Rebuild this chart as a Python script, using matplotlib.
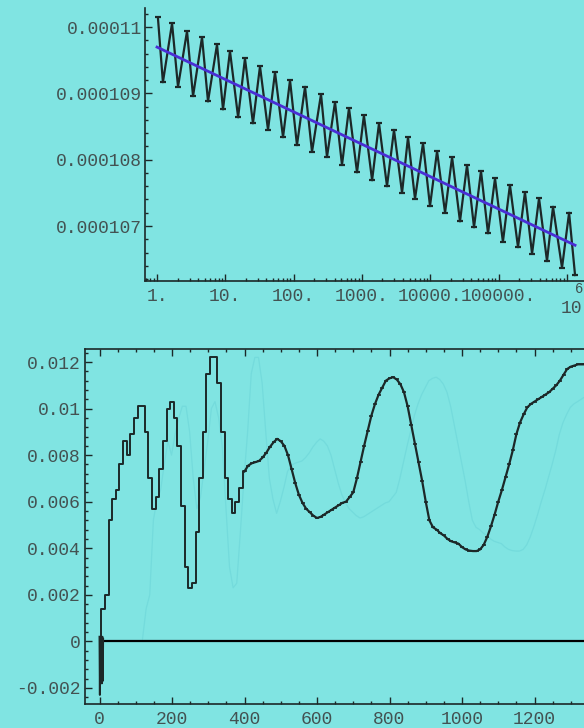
import numpy as np
import matplotlib
matplotlib.use('Agg')
import matplotlib.pyplot as plt
import matplotlib.transforms as mtransforms
from matplotlib.ticker import FixedLocator, FixedFormatter, MultipleLocator, LogLocator, NullFormatter

W, H = 584, 728
bg = '#80e4e2'
ink = '#1c2828'
txt = '#435252'
mono = 'Liberation Mono'

# --- upper panel: log-periodic wiggle, y in units of 1e-6 ---
peak_x = [1.03, 1.66, 2.75, 4.56, 7.56, 11.7, 19.4, 32.2, 53.4, 88.6, 147, 252, 404, 647,
          1070, 1780, 2950, 4730, 7850, 12600, 20900, 34600, 55400, 88900, 147000,
          244000, 392000, 628000, 1080000]
peak_y = [110.15, 110.06, 109.94, 109.85, 109.74, 109.64, 109.53, 109.41, 109.32, 109.20,
          109.10, 108.99, 108.87, 108.78, 108.67, 108.55, 108.45, 108.34, 108.25, 108.13,
          108.04, 107.92, 107.83, 107.72, 107.62, 107.51, 107.42, 107.29, 107.20]
trough_x = [1.22, 2.03, 3.37, 5.58, 9.25, 15.4, 25.4, 42.2, 70.0, 112, 186, 308, 511, 848,
            1410, 2330, 3870, 5990, 9930, 16500, 27300, 43800, 70200, 116000, 193000,
            310000, 513000, 851000, 1320000]
trough_y = [109.17, 109.10, 108.96, 108.88, 108.76, 108.64, 108.55, 108.45, 108.34, 108.22,
            108.12, 108.04, 107.92, 107.81, 107.69, 107.60, 107.50, 107.41, 107.30, 107.20,
            107.07, 106.98, 106.89, 106.76, 106.68, 106.58, 106.47, 106.37, 106.26]
fit_x = [1.0, 1.32e6]
fit_y = [109.70, 106.71]

top_ticks = [1, 10, 100, 1000, 10000, 100000, 1000000]
top_labels = ['1.', '10.', '100.', '1000.', '10000.', '100000.', '']
top_yticks = [107, 108, 109, 110]
top_ylabels = ['0.000107', '0.000108', '0.000109', '0.00011']

# --- lower panel, y in units of 1e-3 ---
spike_x = [0, 1, 2, 3, 4, 5, 6, 7, 8, 9, 10]
spike_y = [0.2, -2.3, 0.15, -1.8, 0.2, -1.8, 0.15, -1.8, 0.2, -1.7, 0.1]
wave_x = np.arange(0, 1350, 10)
wave_y = [0.1, 1.4, 2.0, 5.2, 6.1, 6.5, 7.6, 8.6, 8.0, 8.9,
          9.6, 10.1, 10.1, 9.0, 7.0, 5.7, 6.2, 7.4, 8.6, 10.0,
          10.3, 9.6, 8.4, 5.8, 3.2, 2.3, 2.5, 4.7, 7.0, 9.0,
          11.5, 12.2, 12.2, 11.1, 9.0, 7.0, 6.1, 5.5, 6.0, 6.6,
          7.3, 7.55, 7.65, 7.7, 7.75, 7.9, 8.1, 8.35, 8.55, 8.7,
          8.6, 8.4, 8.0, 7.4, 6.8, 6.3, 5.95, 5.7, 5.55, 5.4,
          5.3, 5.35, 5.45, 5.55, 5.65, 5.75, 5.85, 5.95, 6.0, 6.2,
          6.4, 7.0, 7.7, 8.4, 9.05, 9.7, 10.2, 10.6, 10.9, 11.2,
          11.3, 11.35, 11.25, 11.05, 10.7, 10.1, 9.3, 8.5, 7.7, 6.9,
          6.0, 5.2, 4.9, 4.8, 4.65, 4.55, 4.4, 4.3, 4.25, 4.2,
          4.05, 3.95, 3.9, 3.88, 3.88, 3.95, 4.15, 4.5, 4.95, 5.45,
          6.0, 6.5, 7.05, 7.6, 8.2, 8.9, 9.4, 9.75, 10.05, 10.2,
          10.3, 10.4, 10.5, 10.6, 10.7, 10.85, 11.0, 11.2, 11.45, 11.7,
          11.8, 11.85, 11.9, 11.9, 11.9]
stair_end = 400  # coarse staircase before this, finely sampled curve after
bot_xticks = [0, 200, 400, 600, 800, 1000, 1200]
bot_yticks = [-2, 0, 2, 4, 6, 8, 10, 12]
bot_ylabels = ['-0.002', '0', '0.002', '0.004', '0.006', '0.008', '0.01', '0.012']


def style_ticks(ax, which_sides):
    ax.tick_params(which='both', direction='in', colors=ink, labelcolor=txt,
                   labelsize=13, **which_sides)
    ax.tick_params(which='major', length=5, width=1)
    ax.tick_params(which='minor', length=2.5, width=1)
    for lab in ax.get_xticklabels() + ax.get_yticklabels():
        lab.set_family(mono)


fig = plt.figure(figsize=(W / 100, H / 100), dpi=100, facecolor=bg)

# upper panel
ax1 = fig.add_axes([145 / W, 1 - 281 / H, (680 - 145) / W, (281 - 8) / H], facecolor=bg)
ax1.set_xscale('log')
ax1.set_xlim(0.667, 10 ** ((680 - 157) / 68.3))
ax1.set_ylim(106.17e-6, 110.29e-6)
osc_x = np.ravel(np.column_stack([peak_x, trough_x]))
osc_y = np.ravel(np.column_stack([peak_y, trough_y])) * 1e-6
ax1.plot(osc_x, osc_y, color=ink, lw=1.6, zorder=3)
ax1.plot(peak_x, np.array(peak_y) * 1e-6, ls='none', marker='_', ms=5, mew=1.6, color=ink, zorder=3)
ax1.plot(trough_x, np.array(trough_y) * 1e-6, ls='none', marker='_', ms=5, mew=1.6, color=ink, zorder=3)
ax1.plot(fit_x, np.array(fit_y) * 1e-6, color='#4a2ed4', lw=2, zorder=4)
for s in ['top', 'right']:
    ax1.spines[s].set_visible(False)
for s in ['left', 'bottom']:
    ax1.spines[s].set_color(ink)
    ax1.spines[s].set_linewidth(1.2)
ax1.xaxis.set_major_locator(FixedLocator(top_ticks))
ax1.xaxis.set_major_formatter(FixedFormatter(top_labels))
ax1.xaxis.set_minor_locator(LogLocator(base=10, subs=np.arange(2, 10)))
ax1.xaxis.set_minor_formatter(NullFormatter())
ax1.yaxis.set_major_locator(FixedLocator(np.array(top_yticks) * 1e-6))
ax1.yaxis.set_major_formatter(FixedFormatter(top_ylabels))
ax1.yaxis.set_minor_locator(MultipleLocator(0.2e-6))
style_ticks(ax1, dict(bottom=True, left=True, top=False, right=False))
ax1.tick_params(axis='x', pad=5)
ax1.tick_params(axis='y', pad=2)
# exponent-style label for the 10^6 tick
ax1.annotate('10', xy=(top_ticks[-1], 0), xycoords=('data', 'axes fraction'),
             xytext=(3, -19.5), textcoords='offset points', ha='center', va='center',
             family=mono, fontsize=13, color=txt, annotation_clip=False)
ax1.annotate('6', xy=(top_ticks[-1], 0), xycoords=('data', 'axes fraction'),
             xytext=(9, -5.5), textcoords='offset points', ha='center', va='center',
             family=mono, fontsize=10, color=txt, annotation_clip=False)

# lower panel
ax2 = fig.add_axes([85 / W, 1 - 704 / H, (680 - 85) / W, (704 - 349) / H], facecolor=bg)
ax2.set_xlim(-40, (680 - 99.5) / 0.3625)
ax2.set_ylim(-2.69, 12.56)
wy = np.array(wave_y)
early = wave_x <= stair_end
late = wave_x >= stair_end
# faint echo of the curve, displaced to the right
ghost = ax2.transData + mtransforms.ScaledTranslation(0.43, 0, fig.dpi_scale_trans)
ax2.plot(wave_x, wy, color='#74dbdc', lw=0.9, transform=ghost, zorder=1)
ax2.hlines(0, wave_x[0], ax2.get_xlim()[1], color='#000000', lw=1.6, zorder=2)
ax2.plot(spike_x, spike_y, color=ink, lw=1.4, zorder=3)
ax2.plot(wave_x[early], wy[early], drawstyle='steps-mid', color=ink, lw=1.4, zorder=3)
ax2.plot(wave_x[late], wy[late], color=ink, lw=1.6, marker='_', ms=3.5, mew=1.2, zorder=3)
for s in ax2.spines.values():
    s.set_color(ink)
    s.set_linewidth(1.2)
ax2.xaxis.set_major_locator(FixedLocator(bot_xticks))
ax2.xaxis.set_minor_locator(MultipleLocator(50))
ax2.yaxis.set_major_locator(FixedLocator(bot_yticks))
ax2.yaxis.set_major_formatter(FixedFormatter(bot_ylabels))
ax2.yaxis.set_minor_locator(MultipleLocator(0.4))
style_ticks(ax2, dict(bottom=True, left=True, top=True, right=True))
ax2.tick_params(axis='x', pad=5)
ax2.tick_params(axis='y', pad=3)

fig.savefig('out.png', dpi=100, facecolor=bg)
